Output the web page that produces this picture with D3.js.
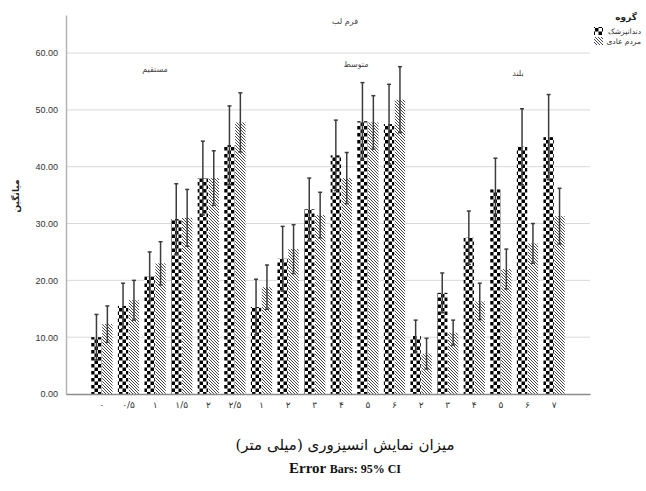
<!DOCTYPE html>
<html>
<head>
<meta charset="utf-8">
<script src="https://cdn.jsdelivr.net/npm/d3@7"></script>
<style>
body { margin: 0; background: #fff; }
svg { display: block; }
</style>
</head>
<body>
<div id="chart"></div>
<script>
// categories (x labels) and groups
var tickLabels = ["۰", "۰/۵", "۱", "۱/۵", "۲", "۲/۵", "۱", "۲", "۳", "۴", "۵", "۶", "۲", "۳", "۴", "۵", "۶", "۷"];
var groupNames = ["مستقیم", "متوسط", "بلند"];
var seriesNames = ["دندانپزشک", "مردم عادی"];

// means and upper CI bound
var dentistMean = [10.0, 15.5, 20.7, 30.8, 38.0, 43.8, 15.3, 23.8, 32.5, 42.0, 48.0, 47.5, 10.2, 17.8, 27.5, 36.0, 43.5, 45.2];
var dentistHigh = [14.0, 19.5, 25.0, 37.0, 44.5, 50.7, 20.2, 29.5, 38.0, 48.2, 54.8, 54.5, 13.0, 21.3, 32.2, 41.5, 50.2, 52.7];
var publicMean = [12.3, 16.5, 23.0, 31.0, 38.0, 47.8, 18.8, 25.5, 31.5, 38.0, 47.8, 51.8, 7.1, 10.8, 16.3, 22.0, 26.5, 31.3];
var publicHigh = [15.5, 20.0, 26.8, 36.0, 42.8, 53.0, 22.7, 29.8, 35.5, 42.5, 52.5, 57.6, 9.8, 13.0, 19.5, 25.5, 30.0, 36.2];

var yTicks = [0, 10, 20, 30, 40, 50, 60];

var svg = d3.select("#chart").append("svg")
    .attr("width", 646)
    .attr("height", 491);

var defs = svg.append("defs");
var checker = defs.append("pattern")
    .attr("id", "checker")
    .attr("patternUnits", "userSpaceOnUse")
    .attr("width", 7).attr("height", 7);
checker.append("rect").attr("width", 7).attr("height", 7).attr("fill", "#fff");
checker.append("rect").attr("width", 3.5).attr("height", 3.5).attr("fill", "#000");
checker.append("rect").attr("x", 3.5).attr("y", 3.5).attr("width", 3.5).attr("height", 3.5).attr("fill", "#000");

var hatch = defs.append("pattern")
    .attr("id", "hatch")
    .attr("patternUnits", "userSpaceOnUse")
    .attr("width", 3).attr("height", 3);
hatch.append("rect").attr("width", 3).attr("height", 3).attr("fill", "#fff");
hatch.append("path")
    .attr("d", "M-1,-1 L4,4 M-1,2 L1,4 M2,-1 L4,1")
    .attr("stroke", "#333")
    .attr("stroke-width", 0.9);

var plotLeft = 66, plotRight = 590, plotTop = 15, plotBottom = 394;

var x = d3.scaleBand()
    .domain(d3.range(tickLabels.length))
    .range([plotLeft, plotRight])
    .paddingInner(0.2)
    .paddingOuter(0.95);

var xs = d3.scaleBand()
    .domain([0, 1])
    .range([0, x.bandwidth()])
    .paddingInner(0.05);

var y = d3.scaleLinear()
    .domain([0, 66.7])
    .range([plotBottom, plotTop]);

// grid lines
svg.append("g")
    .selectAll("line")
    .data(yTicks.slice(1))
    .enter()
    .append("line")
    .attr("x1", plotLeft).attr("x2", plotRight)
    .attr("y1", d => y(d)).attr("y2", d => y(d))
    .attr("stroke", "#d9d9d9")
    .attr("stroke-width", 1);

// y axis
var leftAxis = d3.axisLeft(y).tickValues(yTicks).tickFormat(d3.format(".2f")).tickSize(0).tickPadding(8);
var yAxisG = svg.append("g")
    .attr("transform", `translate(${plotLeft},0)`)
    .call(leftAxis);
yAxisG.select(".domain").attr("stroke", "#b5b5b5").attr("stroke-width", 1.5);
yAxisG.selectAll("text")
    .attr("font-family", "Liberation Sans, Arial, sans-serif")
    .attr("font-size", 9)
    .attr("fill", "#333");

// bars
var series = [
    { mean: dentistMean, high: dentistHigh, fill: "url(#checker)" },
    { mean: publicMean, high: publicHigh, fill: "url(#hatch)" }
];

series.forEach(function (s, si) {
    var g = svg.append("g");
    g.selectAll("rect")
        .data(s.mean)
        .enter()
        .append("rect")
        .attr("x", (d, i) => x(i) + xs(si))
        .attr("width", xs.bandwidth())
        .attr("y", d => y(d))
        .attr("height", d => y(0) - y(d))
        .attr("fill", s.fill);
});

// error bars
series.forEach(function (s, si) {
    var g = svg.append("g").attr("stroke", "#3c3c3c").attr("stroke-width", 1.5);
    s.mean.forEach(function (m, i) {
        var cx = x(i) + xs(si) + xs.bandwidth() / 2;
        var hi = s.high[i];
        var lo = m - (hi - m);
        g.append("line").attr("x1", cx).attr("x2", cx).attr("y1", y(hi)).attr("y2", y(lo));
        g.append("line").attr("x1", cx - 2).attr("x2", cx + 2).attr("y1", y(hi)).attr("y2", y(hi));
        g.append("line").attr("x1", cx - 2).attr("x2", cx + 2).attr("y1", y(lo)).attr("y2", y(lo));
    });
});

// x axis
var bottomAxis = d3.axisBottom(x).tickFormat(i => tickLabels[i]).tickSize(0).tickPadding(8);
var xAxisG = svg.append("g")
    .attr("transform", `translate(0,${plotBottom})`)
    .call(bottomAxis);
xAxisG.select(".domain").attr("stroke", "#8c8c8c").attr("stroke-width", 1.5);
xAxisG.selectAll("text")
    .attr("font-family", "DejaVu Sans, sans-serif")
    .attr("font-size", 9)
    .attr("fill", "#333");

// group labels
var groupPos = [[155, 72], [356, 67], [518, 76]];
svg.append("g")
    .selectAll("text")
    .data(groupNames)
    .enter()
    .append("text")
    .attr("x", (d, i) => groupPos[i][0])
    .attr("y", (d, i) => groupPos[i][1])
    .attr("text-anchor", "middle")
    .attr("font-family", "DejaVu Sans, sans-serif")
    .attr("font-size", 8)
    .attr("fill", "#444")
    .text(d => d);

svg.append("text")
    .attr("x", 345).attr("y", 24)
    .attr("text-anchor", "middle")
    .attr("font-family", "DejaVu Sans, sans-serif")
    .attr("font-size", 8)
    .attr("fill", "#444")
    .text("فرم لب");

// y title
svg.append("text")
    .attr("transform", "translate(19,196) rotate(-90)")
    .attr("text-anchor", "middle")
    .attr("font-family", "DejaVu Sans, sans-serif")
    .attr("font-weight", "bold")
    .attr("font-size", 9)
    .attr("fill", "#222")
    .text("میانگین");

// legend
var legend = svg.append("g");
legend.append("text")
    .attr("x", 637).attr("y", 20)
    .attr("text-anchor", "end")
    .attr("font-family", "DejaVu Sans, sans-serif")
    .attr("font-weight", "bold")
    .attr("font-size", 9)
    .attr("fill", "#222")
    .text("گروه");
seriesNames.forEach(function (name, i) {
    legend.append("rect")
        .attr("x", 594).attr("y", 27 + i * 10)
        .attr("width", 9).attr("height", 8)
        .attr("fill", series[i].fill);
    legend.append("text")
        .attr("x", 641).attr("y", 34 + i * 10)
        .attr("text-anchor", "end")
        .attr("font-family", "DejaVu Sans, sans-serif")
        .attr("font-size", 7.5)
        .attr("fill", "#333")
        .text(name);
});

// x title
svg.append("text")
    .attr("x", 345).attr("y", 450)
    .attr("text-anchor", "middle")
    .attr("font-family", "DejaVu Serif, DejaVu Sans, serif")
    .attr("font-size", 15)
    .attr("fill", "#111")
    .text("میزان نمایش انسیزوری (میلی متر)");

var note = svg.append("text")
    .attr("x", 345).attr("y", 473)
    .attr("text-anchor", "middle")
    .attr("font-family", "Liberation Serif, Times New Roman, serif")
    .attr("font-weight", "bold")
    .attr("fill", "#111");
note.append("tspan").attr("font-size", 15).text("Error ");
note.append("tspan").attr("font-size", 12).text("Bars: 95% CI");
</script>
</body>
</html>
